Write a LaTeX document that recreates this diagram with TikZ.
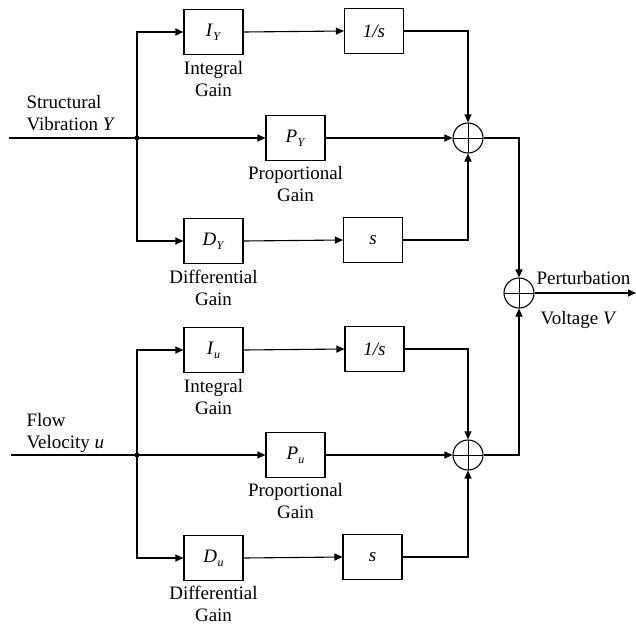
\documentclass[tikz,border=0pt]{standalone}
\usepackage{fontspec}
\setmainfont{Liberation Serif}
\usetikzlibrary{arrows.meta}
\newcommand{\myvar}[2]{\textit{#1}\kern0.3pt\raisebox{-0.22em}{\fontsize{12}{12}\selectfont\textit{#2}}}
\begin{document}
\begin{tikzpicture}[x=1pt,y=-1pt,line width=1.1pt,
  blk/.style={draw,minimum width=59pt,minimum height=45pt,inner sep=0pt,font=\fontsize{19}{22}\selectfont},
  lbl/.style={align=center,anchor=north,inner sep=0pt,font=\fontsize{19}{22}\selectfont},
  sumnode/.style={draw,circle,minimum size=30pt,inner sep=0pt,
    path picture={\draw[line width=1pt] (path picture bounding box.north) -- (path picture bounding box.south)
      (path picture bounding box.west) -- (path picture bounding box.east);}},
  arr/.style={-{Triangle[length=8pt,width=7pt]}},
  jdot/.style={circle,fill,inner sep=0pt,minimum size=5pt}]
\useasboundingbox (0,0) rectangle (636,627);
% ---------- top section ----------
\coordinate (inY) at (9,138);
\node[jdot] (spY) at (137,138) {};
\node[blk] (IY) at (213.5,32) {\myvar{I}{Y}};
\node[blk] (intY) at (374,31) {\textit{1/s}};
\node[blk] (PY) at (295.5,138) {\myvar{P}{Y}};
\node[blk] (DY) at (213.5,241) {\myvar{D}{Y}};
\node[blk] (dY) at (373,240) {\textit{s}};
\node[sumnode] (sumY) at (468,138) {};
\node[lbl] at (213.5,61) {Integral\\Gain};
\node[lbl] at (295.5,166) {Proportional\\Gain};
\node[lbl] at (213.5,270) {Differential\\Gain};
\node[lbl,align=left,anchor=north west] at (26,95) {Structural\\Vibration \textit{Y}};
\draw (inY) -- (spY.center);
\draw[arr] (spY.center) |- (IY.west);
\draw[arr] (spY.center) -- (PY.west);
\draw[arr] (spY.center) |- (DY.west);
\draw[arr] (IY.east) -- (intY.west);
\draw[arr] (DY.east) -- (dY.west);
\draw[arr] (intY.east) -| (sumY.north);
\draw[arr] (PY.east) -- (sumY.west);
\draw[arr] (dY.east) -| (sumY.south);
% ---------- bottom section ----------
\coordinate (inU) at (11,455);
\node[jdot] (spU) at (137,455) {};
\node[blk] (IU) at (213.5,350) {\myvar{I}{u}};
\node[blk] (intU) at (374.5,349) {\textit{1/s}};
\node[blk] (PU) at (295.5,455) {\myvar{P}{u}};
\node[blk] (DU) at (213.5,558) {\myvar{D}{u}};
\node[blk] (dU) at (372.5,557) {\textit{s}};
\node[sumnode] (sumU) at (468,455) {};
\node[lbl] at (213.5,379) {Integral\\Gain};
\node[lbl] at (295.5,483) {Proportional\\Gain};
\node[lbl] at (213.5,586) {Differential\\Gain};
\node[lbl,align=left,anchor=north west] at (26,413) {Flow\\Velocity \textit{u}};
\draw (inU) -- (spU.center);
\draw[arr] (spU.center) |- (IU.west);
\draw[arr] (spU.center) -- (PU.west);
\draw[arr] (spU.center) |- (DU.west);
\draw[arr] (IU.east) -- (intU.west);
\draw[arr] (DU.east) -- (dU.west);
\draw[arr] (intU.east) -| (sumU.north);
\draw[arr] (PU.east) -- (sumU.west);
\draw[arr] (dU.east) -| (sumU.south);
% ---------- output ----------
\node[sumnode] (sumV) at (519,293) {};
\coordinate (out) at (636,293);
\draw[arr] (sumY.east) -| (sumV.north);
\draw[arr] (sumU.east) -| (sumV.south);
\draw[arr] (sumV.east) -- (out);
\node[lbl,anchor=base west] at (536,284) {Perturbation};
\node[lbl,anchor=base west] at (540,324) {Voltage \textit{V}};
\end{tikzpicture}
\end{document}
